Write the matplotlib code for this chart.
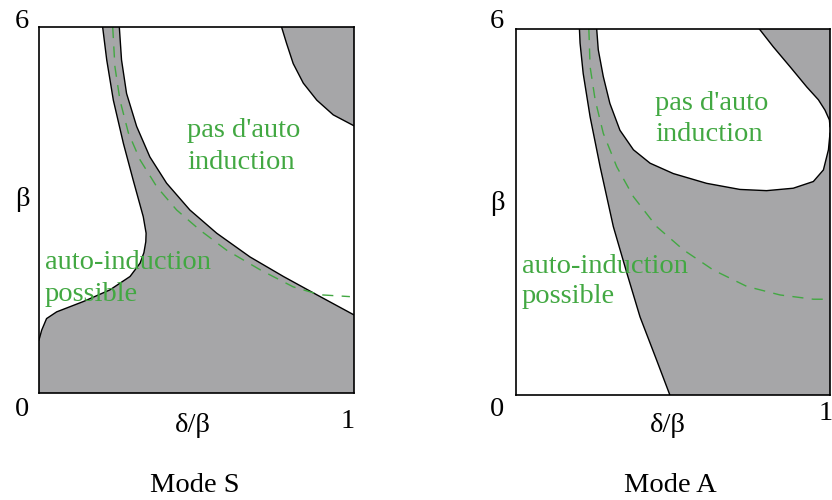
import matplotlib
matplotlib.use('Agg')
import matplotlib.pyplot as plt

# Mode S boundaries (delta/beta, beta)
s_left_x = [0.0, 0.0085, 0.024, 0.056, 0.141, 0.225, 0.289, 0.321, 0.333, 0.339, 0.340, 0.331, 0.299, 0.268, 0.236, 0.215, 0.202]
s_left_y = [0.87, 1.03, 1.22, 1.33, 1.50, 1.69, 1.91, 2.13, 2.30, 2.48, 2.62, 2.89, 3.49, 4.09, 4.80, 5.46, 6.0]
s_right_x = [0.255, 0.262, 0.278, 0.310, 0.352, 0.405, 0.479, 0.564, 0.670, 0.776, 0.882, 1.0]
s_right_y = [6.0, 5.46, 4.91, 4.37, 3.87, 3.44, 3.0, 2.62, 2.23, 1.91, 1.61, 1.28]
s_corner_x = [0.770, 0.786, 0.807, 0.839, 0.882, 0.934, 1.0]
s_corner_y = [6.0, 5.73, 5.40, 5.08, 4.80, 4.56, 4.38]
s_dash_x = [0.234, 0.241, 0.257, 0.284, 0.321, 0.374, 0.437, 0.511, 0.596, 0.702, 0.807, 0.892, 0.987]
s_dash_y = [6.0, 5.35, 4.80, 4.26, 3.82, 3.38, 3.0, 2.67, 2.34, 2.02, 1.74, 1.61, 1.58]

# Mode A boundaries
a_left_x = [0.202, 0.204, 0.214, 0.236, 0.268, 0.310, 0.353, 0.395, 0.448, 0.490]
a_left_y = [6.0, 5.77, 5.27, 4.56, 3.74, 2.76, 2.0, 1.28, 0.57, 0.0]
a_pocket_x = [0.257, 0.262, 0.278, 0.299, 0.331, 0.374, 0.427, 0.501, 0.607, 0.713, 0.798, 0.883, 0.947, 0.979, 0.995, 1.0]
a_pocket_y = [6.0, 5.66, 5.22, 4.78, 4.34, 4.02, 3.80, 3.63, 3.47, 3.37, 3.35, 3.39, 3.50, 3.69, 4.02, 4.29]
a_corner_x = [0.775, 0.819, 0.873, 0.926, 0.963, 0.984, 0.998, 1.0]
a_corner_y = [6.0, 5.71, 5.38, 5.05, 4.84, 4.67, 4.51, 4.40]
a_dash_x = [0.232, 0.236, 0.252, 0.278, 0.321, 0.374, 0.448, 0.533, 0.628, 0.735, 0.841, 0.947, 0.995]
a_dash_y = [6.0, 5.38, 4.84, 4.29, 3.74, 3.25, 2.76, 2.38, 2.05, 1.78, 1.64, 1.57, 1.57]

titles = ['Mode S', 'Mode A']

gray = '#a6a6a8'
green = '#42a842'
serif = 'Liberation Serif'
fs = 20.5
gfs = 20.5

fig = plt.figure(figsize=(8.32, 5.0), dpi=100)
axS = fig.add_axes([39/832, 1-393/500, 315/832, 366/500])
axA = fig.add_axes([516/832, 1-395/500, 314/832, 366/500])

# Mode S
px = [0.0] + s_left_x + s_right_x + [1.0]
py = [0.0] + s_left_y + s_right_y + [0.0]
axS.fill(px, py, color=gray, lw=0)
axS.fill(s_corner_x + [1.0], s_corner_y + [6.0], color=gray, lw=0)
for x, y in [(s_left_x, s_left_y), (s_right_x, s_right_y), (s_corner_x, s_corner_y)]:
    axS.plot(x, y, color='black', lw=1.0)
axS.plot(s_dash_x, s_dash_y, color=green, lw=1.0, dashes=(8, 6))
axS.text(0.47, 4.04, "pas d'auto\ninduction", color=green, fontsize=gfs, family=serif,
         va='center', ha='left', linespacing=1.4)
axS.text(0.019, 1.88, "auto-induction\npossible", color=green, fontsize=gfs, family=serif,
         va='center', ha='left', linespacing=1.4)

# Mode A
axA.fill(a_left_x + [1.0, 1.0], a_left_y + [0.0, 6.0], color=gray, lw=0)
wx = a_pocket_x + a_corner_x[::-1]
wy = a_pocket_y + a_corner_y[::-1]
axA.fill(wx, wy, color='white', lw=0)
axA.fill(a_corner_x + [1.0], a_corner_y + [6.0], color=gray, lw=0)
for x, y in [(a_left_x, a_left_y), (a_pocket_x, a_pocket_y), (a_corner_x, a_corner_y)]:
    axA.plot(x, y, color='black', lw=1.0)
axA.plot(a_dash_x, a_dash_y, color=green, lw=1.0, dashes=(8, 6))
axA.text(0.443, 4.52, "pas d'auto\ninduction", color=green, fontsize=gfs, family=serif,
         va='center', ha='left', linespacing=1.3)
axA.text(0.019, 1.86, "auto-induction\npossible", color=green, fontsize=gfs, family=serif,
         va='center', ha='left', linespacing=1.3)

for ax in [axS, axA]:
    ax.set_xlim(0, 1)
    ax.set_ylim(0, 6)
    ax.set_xticks([])
    ax.set_yticks([])
    for sp in ax.spines.values():
        sp.set_linewidth(1.2)

# labels around the panels (pixel positions converted to figure fractions)
labels = [
    ('6', 22, 22), ('β', 22, 200), ('0', 22, 410), ('δ/β', 193, 425), ('1', 348, 422), (titles[0], 195, 485),
    ('6', 497, 22), ('β', 497, 203), ('0', 497, 410), ('δ/β', 668, 425), ('1', 826, 413), (titles[1], 670, 485),
]
for s, x, y in labels:
    fig.text(x/832, 1-y/500, s, fontsize=fs, family=serif, ha='center', va='center')

fig.savefig('out.png', dpi=100)
